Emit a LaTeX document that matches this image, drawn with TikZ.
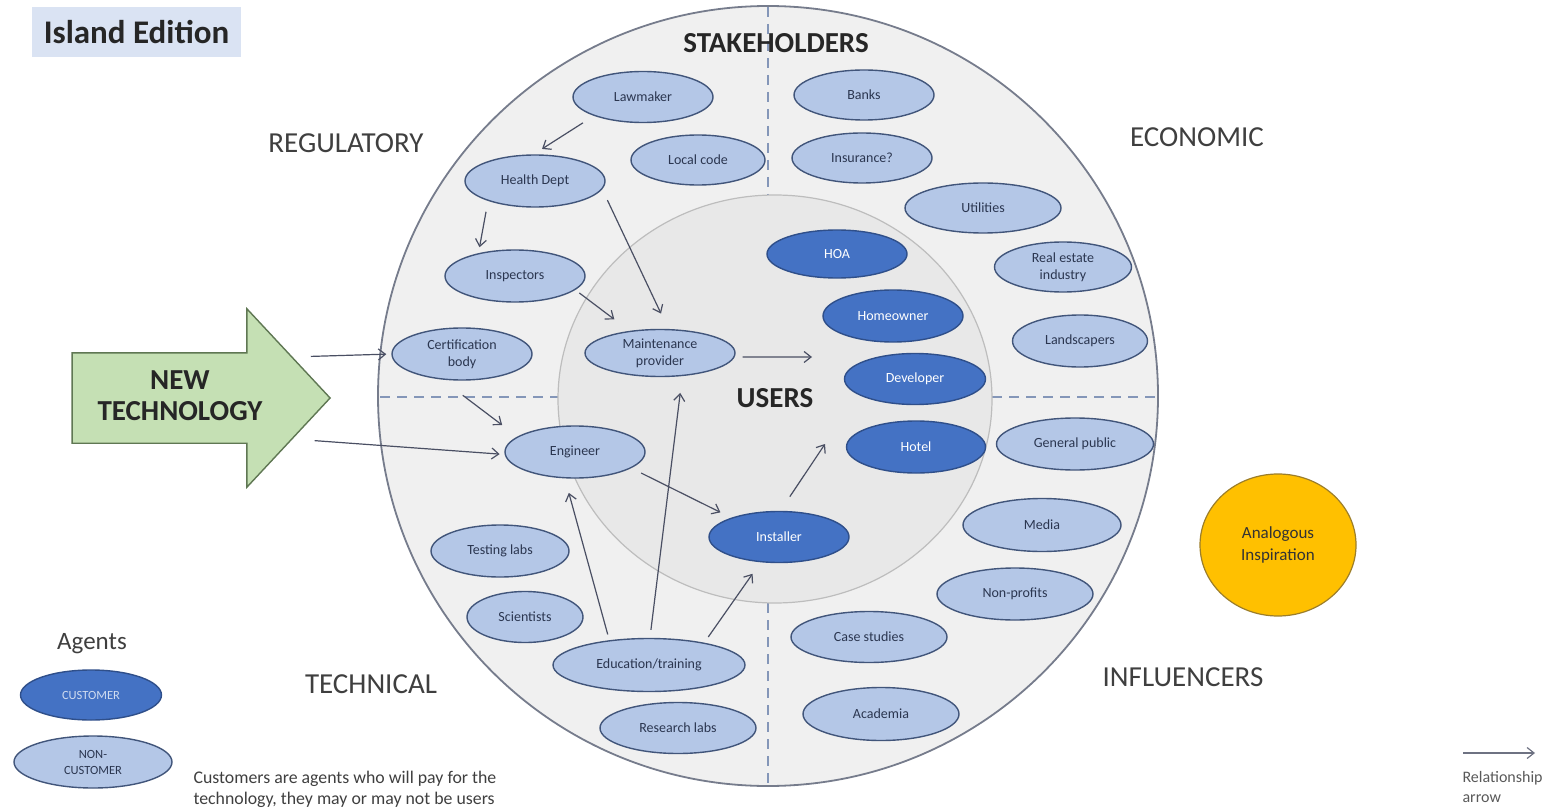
\documentclass[tikz,border=0pt]{standalone}
\usepackage{fontspec}
\setmainfont{Carlito}
\usetikzlibrary{shapes.geometric,shapes.arrows,arrows.meta}

\definecolor{ncfill}{HTML}{B4C7E7}
\definecolor{ncdraw}{HTML}{41557A}
\definecolor{nctext}{HTML}{2B3650}
\definecolor{cfill}{HTML}{4472C4}
\definecolor{cdraw}{HTML}{2F4F8A}
\definecolor{ringfill}{HTML}{F0F0F0}
\definecolor{ringdraw}{HTML}{767C8C}
\definecolor{userfill}{HTML}{E8E8E8}
\definecolor{userdraw}{HTML}{BDBDBD}
\definecolor{dashcol}{HTML}{8496B8}
\definecolor{relcol}{HTML}{4A4F63}
\definecolor{labgray}{HTML}{3F3F3F}
\definecolor{titlebox}{HTML}{DAE3F3}
\definecolor{techfill}{HTML}{C5E0B4}
\definecolor{techdraw}{HTML}{5F7753}
\definecolor{inspfill}{HTML}{FFC000}
\definecolor{inspdraw}{HTML}{9C7E2A}

\tikzset{
  agent/.style={ellipse, draw=ncdraw, fill=ncfill, line width=1.4pt,
    minimum width=140pt, minimum height=51pt, inner sep=0pt, align=center,
    text=nctext, font=\fontsize{14}{17}\selectfont},
  cust/.style={agent, draw=cdraw, fill=cfill, text=white},
  rel/.style={draw=relcol, line width=1.2pt,
    -{Straight Barb[length=7pt,width=11pt,line width=1.2pt]}},
  quad/.style={text=labgray, font=\fontsize{29}{32}\selectfont},
  heading/.style={text=black!85, font=\bfseries\fontsize{29}{32}\selectfont},
}

\begin{document}
\begin{tikzpicture}[x=1pt,y=-1pt]
\useasboundingbox (0,0) rectangle (1562,810);

% title
\node[fill=titlebox, minimum width=209pt, minimum height=50pt, inner sep=0pt,
  text=black!85, font=\bfseries\fontsize{33}{36}\selectfont] (title) at (136.5,32) {Island Edition};

% stakeholder ring and users core
\node[circle, draw=ringdraw, fill=ringfill, line width=1.8pt, minimum size=780pt, inner sep=0pt] (ring) at (768,396) {};
\draw[dashcol, line width=1.3pt, dash pattern=on 10pt off 7pt]
  (768,7) -- (768,195)  (768,603) -- (768,785)
  (380,397) -- (558,397)  (992,397) -- (1157,397);
\node[ellipse, draw=userdraw, fill=userfill, line width=1.2pt, minimum width=434pt, minimum height=408pt, inner sep=0pt] (users) at (775,399) {};

% headings
\node[heading] (stake) at (776,43) {STAKEHOLDERS};
\node[heading] (userslbl) at (775,398) {USERS};
\node[quad] (regul) at (346,143) {REGULATORY};
\node[quad] (econ) at (1197,137) {ECONOMIC};
\node[quad] (techn) at (371,684) {TECHNICAL};
\node[quad] (influ) at (1183,677) {INFLUENCERS};

% new technology arrow
\node[single arrow, draw=techdraw, fill=techfill, line width=1.4pt,
  minimum height=258pt, minimum width=177pt, single arrow head extend=44pt,
  single arrow tip angle=94, inner xsep=0pt, inner ysep=44.5pt] (newtech) at (180,398) {};
\node[heading, align=center, font=\bfseries\fontsize{29}{31}\selectfont] (newtechlbl) at (180,396) {NEW\\TECHNOLOGY};

% regulatory
\node[agent] (law) at (643,97) {Lawmaker};
\node[agent, minimum width=134pt, minimum height=50pt] (localcode) at (698,160) {Local code};
\node[agent, minimum height=52pt] (health) at (535,181) {Health Dept};
\node[agent, minimum height=52pt] (insp) at (515,276) {Inspectors};
\node[agent, minimum height=52pt] (cert) at (462,354) {Certification\\body};
\node[agent, minimum width=150pt, minimum height=47pt] (maint) at (660,353) {Maintenance\\provider};

% technical
\node[agent, minimum height=52pt] (eng) at (575,452) {Engineer};
\node[agent, minimum width=138pt, minimum height=52pt] (testing) at (500,551) {Testing labs};
\node[agent, minimum width=116pt] (sci) at (525,617) {Scientists};
\node[agent, minimum width=192pt, minimum height=53pt] (edu) at (649,665) {Education/training};
\node[agent, minimum width=156pt] (research) at (678,728) {Research labs};

% users
\node[cust] (installer) at (779,537) {Installer};
\node[cust, minimum height=48pt] (hoa) at (837,254) {HOA};
\node[cust, minimum height=52pt] (homeowner) at (893,316) {Homeowner};
\node[cust, minimum width=141pt] (developer) at (915,379) {Developer};
\node[cust, minimum width=139pt, minimum height=52pt] (hotel) at (916,447) {Hotel};

% economic
\node[agent, minimum height=50pt] (banks) at (864,95) {Banks};
\node[agent, minimum height=50pt] (insurance) at (862,158) {Insurance?};
\node[agent, minimum width=156pt, minimum height=50pt] (utilities) at (983,208) {Utilities};
\node[agent, minimum width=137pt, minimum height=50pt] (realestate) at (1063,267) {Real estate\\industry};
\node[agent, minimum width=135pt, minimum height=52pt] (landscapers) at (1080,341) {Landscapers};

% influencers
\node[agent, minimum width=157pt, minimum height=52pt] (public) at (1075,444) {General public};
\node[agent, minimum width=158pt, minimum height=53pt] (media) at (1042,525) {Media};
\node[agent, minimum width=156pt, minimum height=52pt] (nonprofits) at (1015,594) {Non-profits};
\node[agent, minimum width=156pt] (casestudies) at (869,637) {Case studies};
\node[agent, minimum width=156pt, minimum height=53pt] (academia) at (881,714) {Academia};

% analogous inspiration
\node[ellipse, draw=inspdraw, fill=inspfill, line width=1.2pt, minimum width=156pt, minimum height=142pt,
  inner sep=0pt, align=center, text=black!80, font=\fontsize{17}{22}\selectfont] (analog) at (1278,545) {Analogous\\Inspiration};

% relationships
\coordinate (u1) at (812,357);
\coordinate (u2) at (825,444);
\draw[rel, shorten <=13pt, shorten >=10pt] (law.201) -- (health.93);
\draw[rel, shorten <=11pt, shorten >=6pt] (health.203) -- (insp.148);
\draw[rel, shorten <=12pt, shorten >=17pt] (health.353) -- (maint.71);
\draw[rel, shorten <=5pt, shorten >=19pt] (insp.347) -- (maint.144);
\draw[rel, shorten <=8pt] (maint.-3) -- (u1);
\draw[rel, shorten <=18pt, shorten >=5pt] (newtech.20) -- (cert.180);
\draw[rel, shorten <=22pt, shorten >=5pt] (newtech.-20.7) -- (eng.182);
\draw[rel, shorten <=26pt, shorten >=19pt] (cert.232) -- (eng.165);
\draw[rel, shorten <=11pt, shorten >=12pt] (eng.344) -- (installer.158);
\draw[rel, shorten <=17pt] (installer.87) -- (u2);
\draw[rel, shorten <=6pt, shorten >=15pt] (edu.148) -- (eng.249);
\draw[rel, shorten <=8pt, shorten >=17pt] (edu.88) -- (maint.314);
\draw[rel, shorten <=7pt, shorten >=14pt] (edu.22) -- (installer.234);

% legend
\node[text=labgray, font=\fontsize{25}{28}\selectfont] (agents) at (92,644) {Agents};
\node[cust, minimum width=141pt, minimum height=50pt, text=cfill!25, font=\fontsize{12.5}{15}\selectfont] (legc) at (91,695) {CUSTOMER};
\node[agent, minimum width=158pt, minimum height=52pt, font=\fontsize{12.5}{16}\selectfont] (legn) at (93,762) {NON-\\CUSTOMER};
\node[anchor=west, align=left, text=labgray, font=\fontsize{17.8}{21}\selectfont] (note) at (190,789)
  {Customers are agents who will pay for the\\technology, they may or may not be users};
\coordinate (rl1) at (1463,753);
\coordinate (rl2) at (1535,753);
\draw[rel, draw=relcol!80] (rl1) -- (rl2);
\node[anchor=west, align=left, text=black!65, font=\fontsize{16}{20}\selectfont] (rellbl) at (1459,787) {Relationship\\arrow};
\end{tikzpicture}
\end{document}
